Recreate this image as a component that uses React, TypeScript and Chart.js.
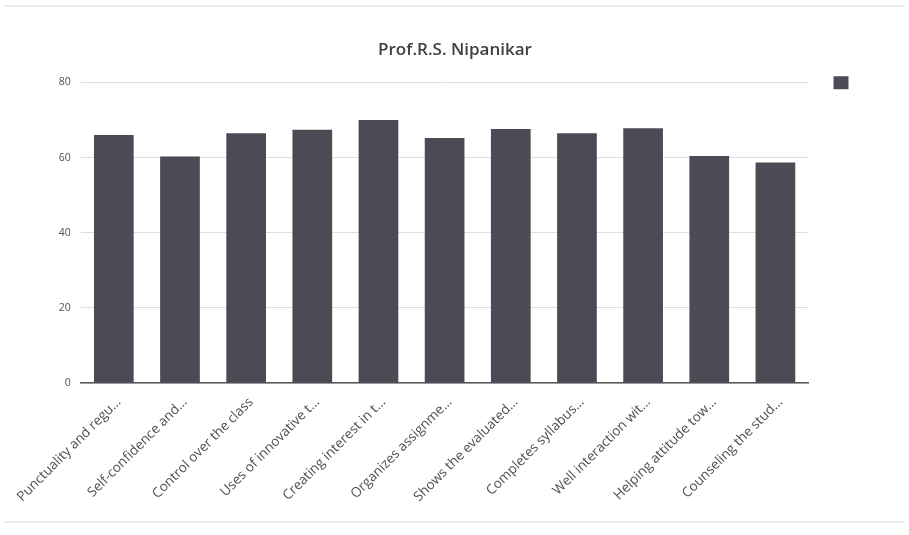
import React, { useEffect, useRef } from "react";
import { Chart, registerables } from "chart.js";

Chart.register(...registerables);

const categories = [
  "Punctuality and regu…",
  "Self-confidence and…",
  "Control over the class",
  "Uses of innovative t…",
  "Creating interest in t…",
  "Organizes assignme…",
  "Shows the evaluated…",
  "Completes syllabus…",
  "Well interaction wit…",
  "Helping attitude tow…",
  "Counseling the stud…",
];
const scores = [66, 60.3, 66.5, 67.4, 70, 65.2, 67.6, 66.5, 67.8, 60.4, 58.7];
const chartTitle = "Prof.R.S. Nipanikar";
const yTicks = [0, 20, 40, 60, 80];

export default function App() {
  const ref = useRef<HTMLCanvasElement | null>(null);
  useEffect(() => {
    document.body.style.margin = "0";
    const bg = {
      id: "bg",
      beforeDraw(c: any) {
        const ctx = c.ctx;
        ctx.save();
        ctx.fillStyle = "#ffffff";
        ctx.fillRect(0, 0, c.width, c.height);
        ctx.strokeStyle = "#dcdcdc";
        ctx.lineWidth = 1.2;
        ctx.beginPath();
        ctx.moveTo(4, 6);
        ctx.lineTo(c.width - 4, 6);
        ctx.moveTo(4, 522);
        ctx.lineTo(c.width - 4, 522);
        ctx.stroke();
        ctx.restore();
      },
    };
    const chart = new Chart(ref.current!, {
      type: "bar",
      data: {
        labels: categories,
        datasets: [
          {
            label: "",
            data: scores,
            backgroundColor: "#4c4b55",
            borderWidth: 0,
            barPercentage: 0.6,
            categoryPercentage: 1,
          },
        ],
      },
      options: {
        animation: false,
        responsive: false,
        layout: { padding: { left: 46, right: 45, top: 30, bottom: 19 } },
        plugins: {
          title: {
            display: true,
            text: chartTitle,
            color: "#404040",
            font: { family: "Open Sans", size: 17, weight: "600" },
            padding: { top: 10, bottom: 22 },
          },
          legend: {
            position: "right",
            align: "start",
            title: {
              display: true,
              text: " ",
              padding: { top: 8, bottom: 0 },
              font: { size: 11 },
            },
            labels: {
              boxWidth: 15,
              boxHeight: 13,
              padding: 25,
              color: "#595959",
              font: { family: "Open Sans", size: 11 },
            },
          },
          tooltip: { enabled: false },
        },
        scales: {
          x: {
            grid: { display: false, drawTicks: false },
            border: { display: true, color: "#595959", width: 1.5 },
            ticks: {
              color: "#505050",
              font: { family: "Open Sans", size: 13.5 },
              maxRotation: 45,
              minRotation: 45,
              autoSkip: false,
              padding: 11,
              labelOffset: 5,
            },
          },
          y: {
            min: 0,
            max: 80,
            afterBuildTicks: (s: any) => {
              s.ticks = yTicks.map((v) => ({ value: v }));
            },
            grid: { color: "#dedede", drawTicks: false },
            border: { display: false },
            ticks: {
              color: "#505050",
              font: { family: "Open Sans", size: 10.5 },
              padding: 10,
            },
          },
        },
      },
      plugins: [bg],
    });
    return () => chart.destroy();
  }, []);
  return <canvas ref={ref} width={909} height={535} style={{ display: "block" }} />;
}
